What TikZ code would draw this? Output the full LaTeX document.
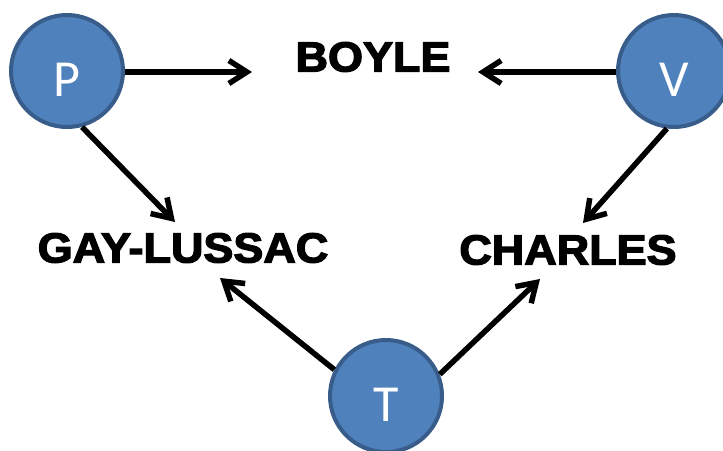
\documentclass[tikz,border=0pt]{standalone}
\usepackage{fontspec}
\usepackage{xcolor}
\usepackage{tikz}
\usetikzlibrary{arrows.meta, positioning, calc}
\newfontfamily\lawfont[BoldFeatures={FakeBold=3}]{Liberation Sans}
\newfontfamily\varfont{Carlito}
\definecolor{varfill}{HTML}{4F81BD}
\definecolor{varedge}{HTML}{385D8A}

\begin{document}
\begin{tikzpicture}[x=1pt, y=-1pt,
    varcirc/.style={circle, fill=varfill, draw=varedge, line width=4pt, minimum size=112pt, inner sep=0pt},
    varletter/.style={text=white, font=\varfont\fontsize{52}{52}\selectfont, inner sep=0pt},
    lawname/.style={font=\lawfont\bfseries\fontsize{42}{42}\selectfont, xscale=1.07, inner sep=0pt},
    arr/.style={line width=5.5pt, -{Straight Barb[length=18pt, width=23pt]}}]
    \useasboundingbox (0,0) rectangle (723,450);

    % Variables
    \node[varcirc] (p) at (67,71) {};
    \node[varcirc] (v) at (674,71) {};
    \node[varcirc] (t) at (386,396) {};
    \node[varletter] (pl) at (67,80) {P};
    \node[varletter] (vl) at (674,80) {V};
    \node[varletter] (tl) at (386,405) {T};

    % Gas laws
    \node[lawname] (boyle) at (373,57) {BOYLE};
    \node[lawname] (gay) at (183,248) {GAY-LUSSAC};
    \node[lawname] (charles) at (568,250) {CHARLES};

    % Arrow ends
    \coordinate (pb) at (252,72);
    \coordinate (vb) at (478,72);
    \coordinate (pg) at (175,222);
    \coordinate (vc) at (583,223);
    \coordinate (tg) at (220,278);
    \coordinate (tc) at (540,279);

    % Arrows
    \draw[arr] (p.east |- pb) -- (pb);
    \draw[arr] (v.west |- vb) -- (vb);
    \draw[arr] (p.-75) -- (pg);
    \draw[arr] (v.-97) -- (vc);
    \draw[arr] (t.153) -- (tg);
    \draw[arr] (t.22) -- (tc);
\end{tikzpicture}
\end{document}
